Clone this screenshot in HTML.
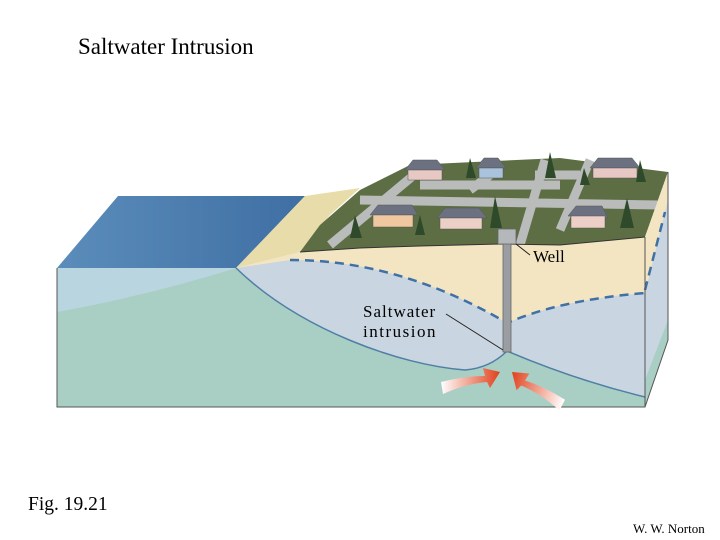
<!DOCTYPE html>
<html><head><style>body{margin:0;background:#fff}svg{display:block}</style></head><body>
<svg width="720" height="540" viewBox="0 0 720 540" xmlns="http://www.w3.org/2000/svg" font-family="Liberation Serif, serif">
<defs>
<linearGradient id="ar1" x1="0" x2="1"><stop offset="0" stop-color="#fff"/><stop offset="1" stop-color="#e0401a"/></linearGradient>
<linearGradient id="sea" x1="0" y1="0" x2="1" y2="0"><stop offset="0" stop-color="#5b8dbb"/><stop offset="1" stop-color="#3f6fa3"/></linearGradient>
</defs>
<text x="78" y="54" font-size="23">Saltwater Intrusion</text>
<polygon points="57,268 118,196 305,196 236,268" fill="url(#sea)"/>
<polygon points="236,268 305,196 360,188 330,215 300,252" fill="#e8dcaa"/>
<polygon points="300,252 320,225 360,190 410,165 560,158 668,172 645,237 560,245 500,244 420,246 360,248" fill="#5d6e45"/>
<path d="M330,245 L420,170 M360,200 L660,205 M420,185 L560,185 M545,160 L520,245 M490,175 L470,190 M535,175 L580,175 M590,160 L560,230" stroke="#b9bcbb" stroke-width="9" fill="none"/>
<g stroke="#555" stroke-width="0.5">
<g transform="translate(405,160)"><polygon points="0,10 8,0 32,0 40,10" fill="#6b7180"/><rect x="3" y="10" width="34" height="10" fill="#e8c8c4"/></g>
<g transform="translate(476,158)"><polygon points="0,10 8,0 22,0 30,10" fill="#6b7180"/><rect x="3" y="10" width="24" height="10" fill="#a9c3dd"/></g>
<g transform="translate(590,158)"><polygon points="0,10 8,0 42,0 50,10" fill="#6b7180"/><rect x="3" y="10" width="44" height="10" fill="#e8c8c4"/></g>
<g transform="translate(370,205)"><polygon points="0,10 8,0 42,0 48,10" fill="#6b7180"/><rect x="3" y="10" width="40" height="12" fill="#f0c8a0"/></g>
<g transform="translate(437,208)"><polygon points="0,10 8,0 42,0 50,10" fill="#6b7180"/><rect x="3" y="10" width="42" height="11" fill="#ecd0c8"/></g>
<g transform="translate(568,206)"><polygon points="0,10 8,0 34,0 40,12" fill="#6b7180"/><rect x="3" y="10" width="34" height="12" fill="#ecd0c8"/></g>
</g>
<g fill="#2f4a2a"><polygon points="470,158 466,178 476,178"/><polygon points="550,152 545,178 556,178"/><polygon points="640,160 636,182 646,182"/><polygon points="495,196 490,228 502,228"/><polygon points="627,198 620,228 634,228"/><polygon points="355,215 350,238 362,238"/><polygon points="420,215 415,235 425,235"/><polygon points="584,168 580,185 590,185"/></g>
<rect x="57" y="268" width="588" height="139" fill="#a9cfc5"/>
<path d="M57,268 L236,268 Q150,295 57,312 Z" fill="#b9d6e0"/>
<path d="M236,268 L300,252 L360,248 L420,246 L500,244 L560,245 L645,237 L645,397 Q575,380 507,351 Q490,368 465,370 C400,365 300,330 236,268 Z" fill="#c9d5e0"/>
<path d="M236,268 L300,252 L360,248 L420,246 L500,244 L560,245 L645,237 L645,293 Q560,300 507,323 Q400,260 290,260 Z" fill="#f3e5c2"/>
<path d="M236,268 C300,330 400,365 465,370 Q490,368 507,351 Q575,380 645,397" fill="none" stroke="#4e7fa5" stroke-width="1.5"/>
<path d="M290,260 Q400,260 507,323 Q560,300 645,293" fill="none" stroke="#3f70a6" stroke-width="2.5" stroke-dasharray="9,6"/>
<path d="M300,252 L360,248 L420,246 L500,244 L560,245 L645,237" fill="none" stroke="#333" stroke-width="1"/>
<polygon points="645,237 668,172 668,340 645,407" fill="#c9d5e0"/>
<polygon points="645,237 668,172 668,200 645,293" fill="#f3e5c2"/>
<path d="M645,290 L665,212" stroke="#3f70a6" stroke-width="2.5" stroke-dasharray="9,6"/>
<polygon points="645,380 668,320 668,340 645,407" fill="#a9cfc5"/>
<path d="M57,268 L57,407 L645,407 L668,340 L668,172 M645,237 L645,407" fill="none" stroke="#555" stroke-width="1"/>
<rect x="503" y="240" width="8" height="112" fill="#9a9ea2" stroke="#666" stroke-width="0.8"/>
<rect x="498" y="229" width="18" height="15" fill="#b5b8ba" stroke="#666" stroke-width="0.8"/>
<line x1="516" y1="244" x2="530" y2="255" stroke="#222"/>
<text x="533" y="262" font-size="17">Well</text>
<line x1="446" y1="314" x2="503" y2="350" stroke="#222"/>
<text x="363" y="317" font-size="17" letter-spacing="1">Saltwater</text>
<text x="363" y="337" font-size="17" letter-spacing="1.5">intrusion</text>
<path d="M441,382 Q465,376 485,376 L483,368 L500,372 L490,388 L487,382 Q465,384 443,394 Z" fill="url(#ar1)"/>
<g transform="translate(1012,0) scale(-1,1) rotate(-18,500,372)">
<path d="M441,382 Q465,376 485,376 L483,368 L500,372 L490,388 L487,382 Q465,384 443,394 Z" fill="url(#ar1)"/>
</g>
<text x="28" y="510" font-size="19.5">Fig. 19.21</text>
<text x="633" y="533" font-size="13">W. W. Norton</text>
</svg>
</body></html>
